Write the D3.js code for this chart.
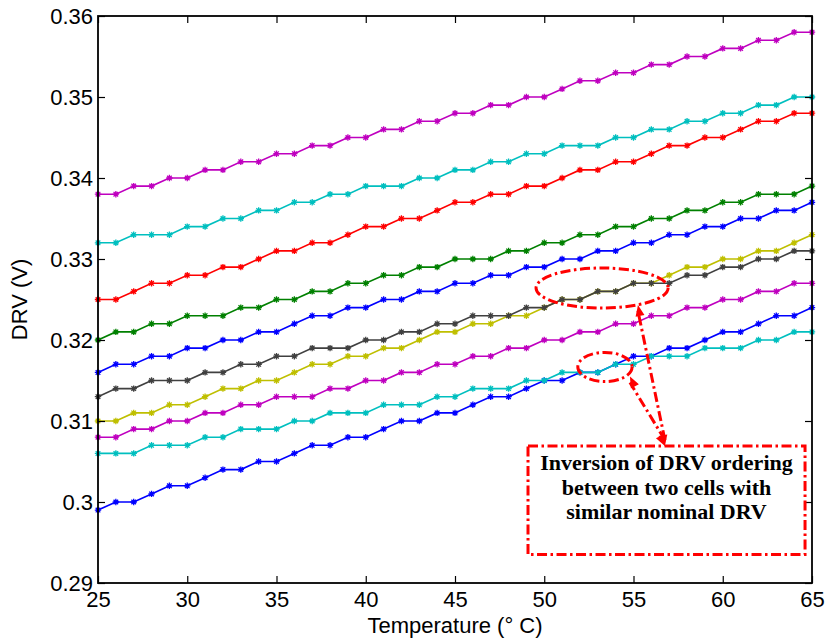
<!DOCTYPE html>
<html><head><meta charset="utf-8">
<script src="https://cdn.jsdelivr.net/npm/d3@7"></script>
<style>body{margin:0;background:#fff}</style>
</head><body>
<svg id="c" width="827" height="641"></svg>
<script>
// ---------- data ----------
const temps = [25,26,27,28,29,30,31,32,33,34,35,36,37,38,39,40,41,42,43,44,45,46,47,48,49,50,51,52,53,54,55,56,57,58,59,60,61,62,63,64,65];
const xTicks = [25,30,35,40,45,50,55,60,65];
const yTicks = [0.29,0.30,0.31,0.32,0.33,0.34,0.35,0.36];
const yTickLabels = ["0.29","0.3","0.31","0.32","0.33","0.34","0.35","0.36"];

const blueLow   = [.299,.300,.300,.301,.302,.302,.303,.304,.304,.305,.305,.306,.307,.307,.308,.308,.309,.310,.310,.311,.311,.312,.313,.313,.314,.315,.315,.316,.316,.317,.318,.318,.319,.319,.320,.321,.321,.322,.323,.323,.324];
const cyanLow   = [.306,.306,.306,.307,.307,.307,.308,.308,.309,.309,.309,.310,.310,.311,.311,.311,.312,.312,.312,.313,.313,.314,.314,.314,.315,.315,.316,.316,.316,.317,.317,.318,.318,.318,.319,.319,.319,.320,.320,.321,.321];
const magentaLow= [.308,.308,.309,.309,.310,.310,.311,.311,.312,.312,.313,.313,.313,.314,.314,.315,.315,.316,.316,.317,.317,.318,.318,.319,.319,.320,.320,.321,.321,.322,.322,.323,.323,.324,.324,.325,.325,.326,.326,.327,.327];
const yellow    = [.310,.310,.311,.311,.312,.312,.313,.314,.314,.315,.315,.316,.317,.317,.318,.318,.319,.319,.320,.321,.321,.322,.322,.323,.323,.324,.325,.325,.326,.326,.327,.327,.328,.329,.329,.330,.330,.331,.331,.332,.333];
const gray      = [.313,.314,.314,.315,.315,.315,.316,.316,.317,.317,.318,.318,.319,.319,.319,.320,.320,.321,.321,.322,.322,.323,.323,.323,.324,.324,.325,.325,.326,.326,.327,.327,.327,.328,.328,.329,.329,.330,.330,.331,.331];
const blueUp    = [.316,.317,.317,.318,.318,.319,.319,.320,.320,.321,.321,.322,.323,.323,.324,.324,.325,.325,.326,.326,.327,.327,.328,.328,.329,.329,.330,.330,.331,.331,.332,.332,.333,.333,.334,.334,.335,.335,.336,.336,.337];
const green     = [.320,.321,.321,.322,.322,.323,.323,.323,.324,.324,.325,.325,.326,.326,.327,.327,.328,.328,.329,.329,.330,.330,.330,.331,.331,.332,.332,.333,.333,.334,.334,.335,.335,.336,.336,.337,.337,.338,.338,.338,.339];
const red       = [.325,.325,.326,.327,.327,.328,.328,.329,.329,.330,.331,.331,.332,.332,.333,.334,.334,.335,.335,.336,.337,.337,.338,.338,.339,.339,.340,.341,.341,.342,.342,.343,.344,.344,.345,.345,.346,.347,.347,.348,.348];
const cyanUp    = [.332,.332,.333,.333,.333,.334,.334,.335,.335,.336,.336,.337,.337,.338,.338,.339,.339,.339,.340,.340,.341,.341,.342,.342,.343,.343,.344,.344,.344,.345,.345,.346,.346,.347,.347,.348,.348,.349,.349,.350,.350];
const magentaUp = [.338,.338,.339,.339,.340,.340,.341,.341,.342,.342,.343,.343,.344,.344,.345,.345,.346,.346,.347,.347,.348,.348,.349,.349,.350,.350,.351,.352,.352,.353,.353,.354,.354,.355,.355,.356,.356,.357,.357,.358,.358];

const seriesList = [blueLow, cyanLow, magentaLow, yellow, gray, blueUp, green, red, cyanUp, magentaUp];
const seriesColors = ["#0000ff","#00bfbf","#bf00bf","#bfbf00","#404040","#0000ff","#008000","#ff0000","#00bfbf","#bf00bf"];

// annotation anchors in data units
const bigEllipse   = {cx:53.24, cy:0.32642, rx:3.70, ry:0.00247};
const smallEllipse = {cx:53.40, cy:0.31667, rx:1.52, ry:0.00180};
const noteBox      = {x0:49.09, x1:64.61, y0:0.30691, y1:0.29352};
const arrowFrom    = [56.76, 0.30691];
const arrowTargets = [[55.25, 0.32432],[54.80, 0.31549]];
const noteLines    = ["Inversion of DRV ordering","between two cells with","similar nominal DRV"];

// ---------- chart ----------
const W = 827, H = 641, m = {l:98, r:15, t:16, b:58};
const svg = d3.select("#c");
const x = d3.scaleLinear().domain([25,65]).range([m.l, W-m.r]);
const y = d3.scaleLinear().domain([0.29,0.36]).range([H-m.b, m.t]);
const tickFont = "'Liberation Sans', Arial, Helvetica, sans-serif";

// series
const line = d3.line().x((d,i)=>x(temps[i])).y(d=>y(d));
const star = "M-3.2,0H3.2M0,-3.2V3.2M-2.3,-2.3L2.3,2.3M-2.3,2.3L2.3,-2.3";
seriesList.forEach((s,k)=>{
  const g = svg.append("g");
  g.append("path").attr("d", line(s)).attr("fill","none")
    .attr("stroke", seriesColors[k]).attr("stroke-width",1.6);
  g.selectAll("g.pt").data(s).join("g")
    .attr("transform",(d,i)=>`translate(${x(temps[i])},${y(d)})`)
    .each(function(){
      const p = d3.select(this);
      p.append("path").attr("d",star).attr("stroke",seriesColors[k]).attr("stroke-width",1.3);
      p.append("circle").attr("r",1.8).attr("fill",seriesColors[k]);
    });
});

// axes (MATLAB-style box with inward ticks)
const fmtY = (d)=> yTickLabels[yTicks.findIndex(t=>Math.abs(t-d)<1e-9)];
const gx = svg.append("g").attr("transform",`translate(0,${H-m.b})`)
  .call(d3.axisBottom(x).tickValues(xTicks).tickSize(-7).tickPadding(8).tickFormat(d3.format("d")));
const gxt = svg.append("g").attr("transform",`translate(0,${m.t})`)
  .call(d3.axisTop(x).tickValues(xTicks).tickSize(-7).tickFormat(""));
const gy = svg.append("g").attr("transform",`translate(${m.l},0)`)
  .call(d3.axisLeft(y).tickValues(yTicks).tickSize(-7).tickPadding(5).tickFormat(fmtY));
const gyr = svg.append("g").attr("transform",`translate(${W-m.r},0)`)
  .call(d3.axisRight(y).tickValues(yTicks).tickSize(-7).tickFormat(""));
[gx,gxt,gy,gyr].forEach(g=>{
  g.select(".domain").remove();
  g.selectAll("line").attr("stroke","#000").attr("stroke-width",1.2);
  g.selectAll("text").attr("font-family",tickFont).attr("font-size",22).attr("fill","#000");
});
svg.append("rect").attr("x",m.l).attr("y",m.t).attr("width",W-m.l-m.r).attr("height",H-m.t-m.b)
  .attr("fill","none").attr("stroke","#000").attr("stroke-width",1.8);

// axis titles
svg.append("text").attr("x",(m.l+W-m.r)/2).attr("y",633).attr("text-anchor","middle")
  .attr("font-family",tickFont).attr("font-size",22).text("Temperature (\u00B0 C)");
svg.append("text").attr("transform",`translate(27,${(m.t+H-m.b)/2}) rotate(-90)`).attr("text-anchor","middle")
  .attr("font-family",tickFont).attr("font-size",22).text("DRV (V)");

// annotations
const dash = "10,3.5,2.5,3.5";
const ann = svg.append("g").attr("fill","none").attr("stroke","#ff0000").attr("stroke-width",3).attr("stroke-dasharray",dash);
[bigEllipse, smallEllipse].forEach(e=>{
  ann.append("ellipse").attr("cx",x(e.cx)).attr("cy",y(e.cy))
    .attr("rx",x(e.cx+e.rx)-x(e.cx)).attr("ry",y(e.cy-e.ry)-y(e.cy));
});
ann.append("rect").attr("x",x(noteBox.x0)).attr("y",y(noteBox.y0))
  .attr("width",x(noteBox.x1)-x(noteBox.x0)).attr("height",y(noteBox.y1)-y(noteBox.y0));

function head(px,py,qx,qy){ // arrowhead at (px,py) pointing away from (qx,qy)
  const a = Math.atan2(py-qy, px-qx), L=11, Wd=4.5;
  const bx = px - L*Math.cos(a), by = py - L*Math.sin(a);
  const nx = -Math.sin(a), ny = Math.cos(a);
  svg.append("path").attr("d",`M${px},${py}L${bx+nx*Wd},${by+ny*Wd}L${bx-nx*Wd},${by-ny*Wd}Z`)
    .attr("fill","#ff0000");
}
arrowTargets.forEach(t=>{
  const x0=x(arrowFrom[0]), y0=y(arrowFrom[1]), x1=x(t[0]), y1=y(t[1]);
  ann.append("line").attr("x1",x0).attr("y1",y0-6).attr("x2",x1).attr("y2",y1+6);
  head(x1,y1,x0,y0);
  head(x0,y0,x1,y1);
});

const tx = svg.append("text").attr("text-anchor","middle")
  .attr("font-family","'Liberation Serif','Times New Roman',serif").attr("font-weight","bold")
  .attr("font-size",22).attr("fill","#000");
noteLines.forEach((s,i)=>{
  tx.append("tspan").attr("x",(x(noteBox.x0)+x(noteBox.x1))/2).attr("y",470+i*24.5).text(s);
});
</script>
</body></html>
